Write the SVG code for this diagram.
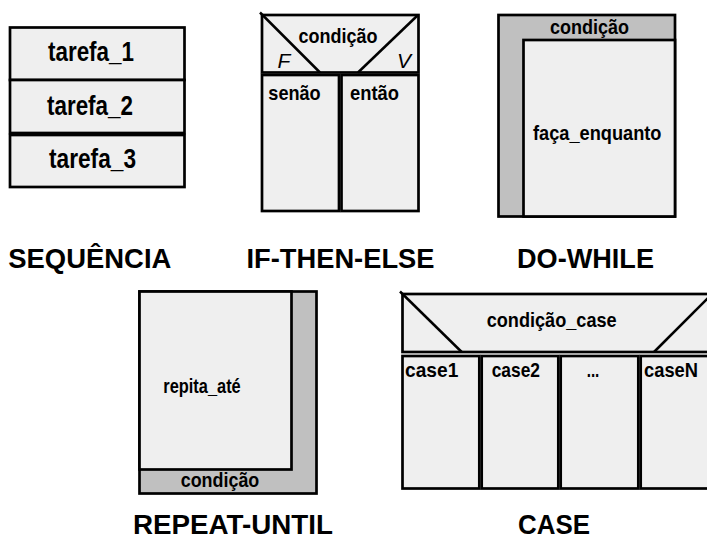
<svg xmlns="http://www.w3.org/2000/svg" width="707" height="540" viewBox="0 0 707 540">
<style>
  .box { fill: #efefef; stroke: #000; stroke-width: 2.7; }
  .grey { fill: #c0c0c0; stroke: #000; stroke-width: 2.7; }
  .ln { fill: none; stroke: #000; stroke-width: 2.5; }
  text { font-family: "Liberation Sans", Arial, sans-serif; font-weight: bold; fill: #000; }
  .t { font-size: 21px; }
  .big { font-size: 27px; }
  .title { font-size: 27.5px; }
  .fv { font-size: 21px; font-weight: normal; font-style: italic; }
</style>
<rect width="707" height="540" fill="#fff"/>

<g id="sequencia">
  <rect class="box" x="10" y="27.5" width="174.5" height="52.5"/>
  <rect class="box" x="10" y="80" width="174.5" height="53"/>
  <rect class="box" x="10" y="135" width="174.5" height="52"/>
  <text class="big" x="48" y="61" textLength="86" lengthAdjust="spacingAndGlyphs">tarefa_1</text>
  <text class="big" x="47" y="115" textLength="86" lengthAdjust="spacingAndGlyphs">tarefa_2</text>
  <text class="big" x="49" y="168" textLength="87" lengthAdjust="spacingAndGlyphs">tarefa_3</text>
  <text class="title" x="8.3" y="267.5" textLength="163" lengthAdjust="spacingAndGlyphs">SEQUÊNCIA</text>
</g>

<g id="if-then-else">
  <rect class="box" x="262" y="15" width="156.5" height="57.5"/>
  <rect class="box" x="262" y="75" width="77" height="136"/>
  <rect class="box" x="341.5" y="75" width="77" height="136"/>
  <line class="ln" x1="260" y1="12.5" x2="320" y2="72.5"/>
  <line class="ln" x1="418" y1="15" x2="358" y2="72.5"/>
  <text class="t" x="298.5" y="42.5" textLength="79" lengthAdjust="spacingAndGlyphs">condição</text>
  <text class="fv" x="277.5" y="67.5">F</text>
  <text class="fv" x="397" y="67.5">V</text>
  <text class="t" x="268.3" y="100" textLength="52.4" lengthAdjust="spacingAndGlyphs">senão</text>
  <text class="t" x="350" y="100" textLength="49" lengthAdjust="spacingAndGlyphs">então</text>
  <text class="title" x="246.5" y="267.5" textLength="188" lengthAdjust="spacingAndGlyphs">IF-THEN-ELSE</text>
</g>

<g id="do-while">
  <rect class="grey" x="498.5" y="15" width="176.5" height="201.5"/>
  <rect class="box" x="523.5" y="40" width="151.5" height="176.5"/>
  <text class="t" x="550" y="33.5" textLength="79" lengthAdjust="spacingAndGlyphs">condição</text>
  <text class="t" x="533" y="140" textLength="128.5" lengthAdjust="spacingAndGlyphs">faça_enquanto</text>
  <text class="title" x="517" y="267.5" textLength="137" lengthAdjust="spacingAndGlyphs">DO-WHILE</text>
</g>

<g id="repeat-until">
  <rect class="grey" x="139.5" y="291.5" width="177" height="202"/>
  <rect class="box" x="139.5" y="291.5" width="152" height="178"/>
  <text class="t" x="163.3" y="393.3" textLength="77.4" lengthAdjust="spacingAndGlyphs">repita_até</text>
  <text class="t" x="180.7" y="486.7" textLength="78.6" lengthAdjust="spacingAndGlyphs">condição</text>
  <text class="title" x="133" y="533.5" textLength="200" lengthAdjust="spacingAndGlyphs">REPEAT-UNTIL</text>
</g>

<g id="case">
  <rect class="box" x="402.5" y="294" width="312" height="58"/>
  <line class="ln" x1="400" y1="291.5" x2="461.7" y2="352"/>
  <line class="ln" x1="713" y1="293" x2="654" y2="352"/>
  <rect class="box" x="402.5" y="356" width="76.8" height="132.5"/>
  <rect class="box" x="481.7" y="356" width="76.6" height="132.5"/>
  <rect class="box" x="560.7" y="356" width="77.6" height="132.5"/>
  <rect class="box" x="640.7" y="356" width="77" height="132.5"/>
  <text class="t" x="486.7" y="326.7" textLength="130" lengthAdjust="spacingAndGlyphs">condição_case</text>
  <text class="t" x="405" y="376.7" textLength="53.3" lengthAdjust="spacingAndGlyphs">case1</text>
  <text class="t" x="491.7" y="376.7" textLength="48.3" lengthAdjust="spacingAndGlyphs">case2</text>
  <text class="t" x="586.7" y="376.7" textLength="12.6" lengthAdjust="spacingAndGlyphs">...</text>
  <text class="t" x="644" y="376.7" textLength="54" lengthAdjust="spacingAndGlyphs">caseN</text>
  <text class="title" x="518" y="533.5" textLength="72" lengthAdjust="spacingAndGlyphs">CASE</text>
</g>

<g id="connectors"></g>
</svg>
